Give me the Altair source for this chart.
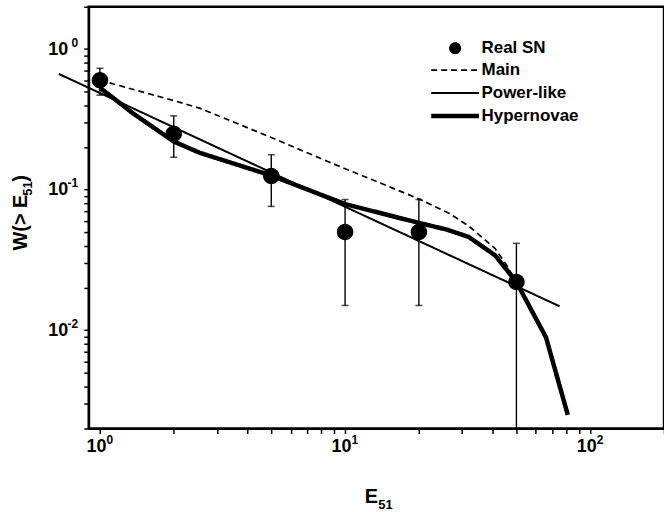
import altair as alt
import pandas as pd

# ---------------- data ----------------
point_names = ["Real SN"]
line_names = ["Main", "Power-like", "Hypernovae"]

sn_E = [1, 2, 5, 10, 20, 50]
sn_W = [0.60, 0.25, 0.125, 0.050, 0.050, 0.022]
sn_lo = [0.47, 0.17, 0.076, 0.015, 0.015, 0.002]
sn_hi = [0.73, 0.335, 0.177, 0.085, 0.085, 0.0415]

main_E = [1, 2, 2.55, 5, 8.4, 10, 20, 26.5, 32, 41, 45.6, 50]
main_W = [0.60, 0.43, 0.38, 0.235, 0.16, 0.141, 0.086, 0.068, 0.055, 0.038, 0.029, 0.022]

power_E = [0.68, 75]
power_W = [0.665, 0.0148]

hyper_E = [1, 1.17, 1.36, 2, 2.55, 5, 10, 16.6, 20, 26, 32, 41, 50, 66, 81]
hyper_W = [0.53, 0.43, 0.35, 0.22, 0.183, 0.126, 0.079, 0.063, 0.058, 0.052,
           0.046, 0.034, 0.022, 0.0089, 0.0025]

x_ticks = [1, 2, 3, 4, 5, 6, 7, 8, 9, 10, 20, 30, 40, 50, 60, 70, 80, 90, 100, 200]
y_ticks = [0.002, 0.003, 0.004, 0.005, 0.006, 0.007, 0.008, 0.009,
           0.01, 0.02, 0.03, 0.04, 0.05, 0.06, 0.07, 0.08, 0.09,
           0.1, 0.2, 0.3, 0.4, 0.5, 0.6, 0.7, 0.8, 0.9, 1, 2]
x_major = [1, 10, 100]
y_major = [0.01, 0.1, 1]

# ---------------- tables ----------------
sn_df = pd.DataFrame({"E": sn_E, "W": sn_W, "lo": sn_lo, "hi": sn_hi,
                      "series": ["Real SN"] * len(sn_E)})
lines_df = pd.concat([
    pd.DataFrame({"E": main_E, "W": main_W, "series": "Main"}),
    pd.DataFrame({"E": power_E, "W": power_W, "series": "Power-like"}),
    pd.DataFrame({"E": hyper_E, "W": hyper_W, "series": "Hypernovae"}),
], ignore_index=True)
caps_df = pd.DataFrame({"E": sn_E + sn_E, "W": sn_lo + sn_hi})

FONT = "Liberation Sans"
circle_path = "M-1.25,0A1.25,1.25,0,1,1,1.25,0A1.25,1.25,0,1,1,-1.25,0Z"
line_path = "M-5,0L5,0"

x_scale = alt.Scale(type="log", domain=[0.9, 200], nice=False)
y_scale = alt.Scale(type="log", domain=[0.002, 2], nice=False)

# main axes: the "10" part of each label, minor + major ticks, main title part
x_axis_main = alt.Axis(
    orient="bottom", values=x_ticks,
    labelExpr="indexof([1, 10, 100], datum.value) >= 0 ? '10' : ''",
    labelFontSize=18, labelPadding=4, labelOffset=-4, labelBaseline="top",
    labelOverlap=False, labelFlush=False,
    title="E", titleFontSize=20, titleX=283, titleY=58, titleBaseline="top",
    titleAlign="center",
)
y_axis_main = alt.Axis(
    orient="left", values=y_ticks,
    labelExpr="datum.value == 1 ? '10' : (datum.value == 0.1 || datum.value == 0.01) ? '10\u2009' : ''",
    labelFontSize=18, labelPadding=16, labelAlign="right",
    labelOverlap=False, labelFlush=False,
    title="W(> E", titleFontSize=20, titleX=-62, titleY=244, titleAngle=270,
    titleAlign="left", titleBaseline="alphabetic",
)
# exponent axes: superscripts of the labels and the subscript of the titles
x_axis_sup = alt.Axis(
    orient="bottom", values=x_major,
    labelExpr="datum.value == 1 ? '0' : datum.value == 10 ? '1' : '2'",
    labelFontSize=12, labelPadding=1, labelOffset=6, labelAlign="left",
    labelBaseline="top", tickOpacity=0, domain=False,
    labelOverlap=False, labelFlush=False,
    title="51", titleFontSize=13, titleX=290, titleY=70, titleBaseline="top",
    titleAlign="left",
)
y_axis_sup = alt.Axis(
    orient="left", values=y_major,
    labelExpr="datum.value == 1 ? '0' : datum.value == 0.1 ? '-1' : '-2'",
    labelFontSize=12, labelPadding=6, labelOffset=-7, labelAlign="right",
    tickOpacity=0, domain=False, labelOverlap=False, labelFlush=False,
    title="51", titleFontSize=13, titleX=-57, titleY=189, titleAngle=270,
    titleAlign="left", titleBaseline="alphabetic",
)
y_axis_paren = alt.Axis(
    orient="left", values=[1], labels=False, ticks=False, domain=False,
    title=")", titleFontSize=20, titleX=-62, titleY=175, titleAngle=270,
    titleAlign="left", titleBaseline="alphabetic",
)

legend_points = alt.Legend(title=None, orient="none", legendX=359, legendY=33,
                           symbolStrokeColor="black", symbolFillColor="black",
                           symbolStrokeWidth=1)
legend_lines = alt.Legend(title=None, orient="none", legendX=359, legendY=55,
                          symbolType=line_path, symbolStrokeColor="black",
                          symbolFillColor="transparent")

lines = alt.Chart(lines_df).mark_line(color="black").encode(
    x=alt.X("E:Q", scale=x_scale, axis=x_axis_main),
    y=alt.Y("W:Q", scale=y_scale, axis=y_axis_main),
    detail="series:N",
    strokeDash=alt.StrokeDash("series:N", scale=alt.Scale(domain=line_names,
                              range=[[6, 4], [1, 0], [1, 0]]), legend=legend_lines),
    strokeWidth=alt.StrokeWidth("series:N", scale=alt.Scale(type="ordinal", domain=line_names,
                                range=[1.7, 2, 4.5]), legend=legend_lines),
)

bars = alt.Chart(sn_df).mark_rule(color="black", strokeWidth=1.4).encode(
    x=alt.X("E:Q", scale=x_scale, axis=None),
    y=alt.Y("lo:Q", scale=y_scale, axis=None), y2="hi:Q",
)

caps = alt.Chart(caps_df).mark_point(shape="M-1,0L1,0", size=49, color="black",
                                     strokeWidth=1.5, filled=False).encode(
    x=alt.X("E:Q", scale=x_scale, axis=None),
    y=alt.Y("W:Q", scale=y_scale, axis=y_axis_paren),
)

points = alt.Chart(sn_df).mark_point(filled=True, color="black", size=175, opacity=1).encode(
    x=alt.X("E:Q", scale=x_scale, axis=x_axis_sup),
    y=alt.Y("W:Q", scale=y_scale, axis=y_axis_sup),
    shape=alt.Shape("series:N", scale=alt.Scale(domain=point_names, range=[circle_path]),
                    legend=legend_points),
)

chart = alt.layer(lines, bars, caps, points).resolve_axis(
    x="independent", y="independent"
).properties(
    width=577, height=423,
    autosize="none",
    padding={"left": 89, "top": 6, "right": 0, "bottom": 83},
    background="white",
).configure_view(
    stroke="black", strokeWidth=2.5,
).configure_axis(
    domainColor="black", domainWidth=2, tickColor="black", tickWidth=1.5, tickSize=5,
    labelFont=FONT, labelFontWeight="bold", labelColor="black",
    titleFont=FONT, titleFontWeight="bold", titleColor="black", grid=False,
).configure_legend(
    symbolSize=92,
    labelFont=FONT, labelFontSize=17, labelFontWeight="bold", labelColor="black",
    rowPadding=5, labelOffset=18, padding=0,
)

chart.save("out.html", embed_options={"renderer": "svg", "actions": False})
